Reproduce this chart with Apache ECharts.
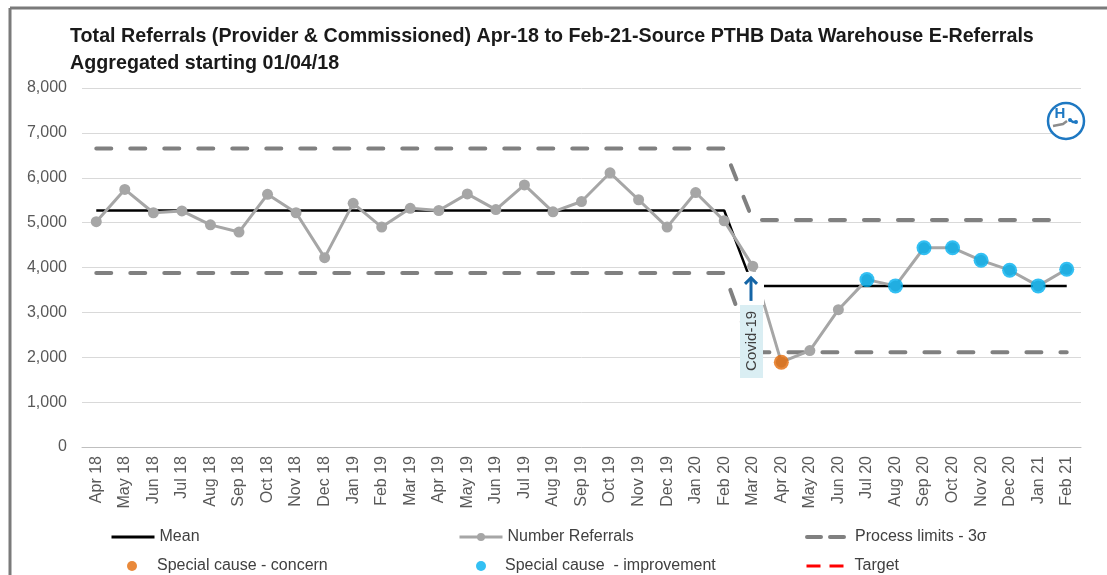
<!DOCTYPE html>
<html>
<head>
	<meta charset="utf-8" />
	<title>Total Referrals SPC</title>
	<script src="https://cdn.jsdelivr.net/npm/echarts@6/dist/echarts.min.js"></script>
	<style>
		html, body { margin: 0; padding: 0; background: #fff; }
		#chart { width: 1107px; height: 575px; }
	</style>
</head>
<body>
<div id="chart"></div>
<script type="text/javascript">
	// months Apr 18 .. Feb 21
	var months = ['Apr 18','May 18','Jun 18','Jul 18','Aug 18','Sep 18','Oct 18','Nov 18','Dec 18','Jan 19','Feb 19','Mar 19',
		'Apr 19','May 19','Jun 19','Jul 19','Aug 19','Sep 19','Oct 19','Nov 19','Dec 19','Jan 20','Feb 20','Mar 20',
		'Apr 20','May 20','Jun 20','Jul 20','Aug 20','Sep 20','Oct 20','Nov 20','Dec 20','Jan 21','Feb 21'];

	var referrals = [5020,5740,5220,5260,4950,4790,5630,5220,4220,5430,4900,5320,
		5270,5640,5290,5840,5240,5470,6110,5510,4900,5670,5040,4030,
		1890,2150,3060,3730,3590,4440,4440,4160,3940,3590,3960];

	var mean = [5270,5270,5270,5270,5270,5270,5270,5270,5270,5270,5270,5270,
		5270,5270,5270,5270,5270,5270,5270,5270,5270,5270,5270,3590,
		3590,3590,3590,3590,3590,3590,3590,3590,3590,3590,3590];

	var upperLimit = [6650,6650,6650,6650,6650,6650,6650,6650,6650,6650,6650,6650,
		6650,6650,6650,6650,6650,6650,6650,6650,6650,6650,6650,5060,
		5060,5060,5060,5060,5060,5060,5060,5060,5060,5060,5060];

	var lowerLimit = [3880,3880,3880,3880,3880,3880,3880,3880,3880,3880,3880,3880,
		3880,3880,3880,3880,3880,3880,3880,3880,3880,3880,3880,2110,
		2110,2110,2110,2110,2110,2110,2110,2110,2110,2110,2110];

	// special cause flags (null = no flag)
	var concern = [null,null,null,null,null,null,null,null,null,null,null,null,
		null,null,null,null,null,null,null,null,null,null,null,null,
		1890,null,null,null,null,null,null,null,null,null,null];

	var improvement = [null,null,null,null,null,null,null,null,null,null,null,null,
		null,null,null,null,null,null,null,null,null,null,null,null,
		null,null,null,3730,3590,4440,4440,4160,3940,3590,3960];

	var target = [];

	var yTicks = { min: 0, max: 8000, interval: 1000 };

	var covidMonth = 'Mar 20';

	var font = '"Liberation Sans", Arial, sans-serif';

	// line-type legend entry (no symbol unless keepDot)
	function lineLegend(name, left, top, lineStyle, keepDot) {
		var item = { name: name, lineStyle: lineStyle };
		if (!keepDot) item.itemStyle = { opacity: 0 };
		return {
			data: [item],
			left: left,
			top: top,
			padding: 0,
			itemWidth: 43,
			itemHeight: 10,
			selectedMode: false,
			textStyle: { fontSize: 16, color: '#404040', fontFamily: font }
		};
	}
	// dot-type legend entry
	function dotLegend(name, left, top, gap) {
		return {
			data: [{ name: name, icon: 'circle' }],
			left: left,
			top: top,
			padding: 0,
			itemWidth: 10,
			itemHeight: 10,
			selectedMode: false,
			textStyle: { fontSize: 16, color: '#404040', fontFamily: font, padding: [0, 0, 0, gap] }
		};
	}

	var myChart = echarts.init(document.getElementById('chart'));
	var option = {
		animation: false,
		backgroundColor: '#fff',
		title: {
			text: 'Total Referrals (Provider & Commissioned) Apr-18 to Feb-21-Source PTHB Data Warehouse E-Referrals\nAggregated starting 01/04/18',
			left: 65,
			top: 18,
			textStyle: {
				fontFamily: font,
				fontWeight: 'bold',
				fontSize: 19.7,
				lineHeight: 27,
				color: '#1a1a1a'
			}
		},
		legend: [
			lineLegend('Mean', 110, 529, { width: 3 }),
			lineLegend('Number Referrals', 458, 529, { width: 3 }, true),
			lineLegend('Process limits - 3σ', 805, 529, { width: 4, type: [14, 9] }),
			dotLegend('Special cause - concern', 127, 558, 15),
			dotLegend('Special cause  - improvement', 476, 558, 14),
			lineLegend('Target', 805, 558, { width: 3, type: [14, 9] })
		],
		grid: {
			left: 82,
			right: 26,
			top: 88,
			bottom: 128
		},
		xAxis: {
			type: 'category',
			data: months,
			boundaryGap: true,
			axisTick: { show: false },
			axisLine: { lineStyle: { color: '#BFBFBF', width: 1 } },
			axisLabel: {
				rotate: 90,
				interval: 0,
				margin: 9,
				fontSize: 16,
				color: '#595959',
				fontFamily: font
			}
		},
		yAxis: {
			type: 'value',
			min: yTicks.min,
			max: yTicks.max,
			interval: yTicks.interval,
			axisLine: { show: false },
			axisTick: { show: false },
			splitLine: { lineStyle: { color: '#D9D9D9', width: 1 } },
			axisLabel: {
				margin: 15,
				fontSize: 16,
				color: '#595959',
				fontFamily: font,
				formatter: function (v) { return v.toLocaleString('en-US'); }
			}
		},
		series: [
			{
				name: 'Process limits - 3σ',
				type: 'line',
				data: upperLimit,
				symbol: 'none',
				z: 2,
				color: '#808080',
				lineStyle: { color: '#808080', width: 4, type: [15, 19], cap: 'round' }
			},
			{
				name: 'Process limits - 3σ',
				type: 'line',
				data: lowerLimit,
				symbol: 'none',
				z: 2,
				color: '#808080',
				lineStyle: { color: '#808080', width: 4, type: [15, 19], cap: 'round' }
			},
			{
				name: 'Mean',
				type: 'line',
				data: mean,
				symbol: 'none',
				z: 3,
				color: '#000',
				lineStyle: { color: '#000', width: 2.5 }
			},
			{
				name: 'Number Referrals',
				type: 'line',
				data: referrals,
				symbol: 'circle',
				symbolSize: 11,
				z: 4,
				color: '#A6A6A6',
				itemStyle: { color: '#A6A6A6' },
				lineStyle: { color: '#A6A6A6', width: 3 }
			},
			{
				name: 'Special cause - concern',
				type: 'scatter',
				data: concern,
				symbol: 'circle',
				symbolSize: 15,
				z: 5,
				color: '#E36C0A',
				itemStyle: { color: '#E36C0A' }
			},
			{
				name: 'Special cause  - improvement',
				type: 'scatter',
				data: improvement,
				symbol: 'circle',
				symbolSize: 15,
				z: 5,
				color: '#00B0F0',
				itemStyle: { color: '#00B0F0' }
			},
			{
				name: 'Target',
				type: 'line',
				data: target,
				symbol: 'none',
				color: '#FF0000',
				lineStyle: { color: '#FF0000', width: 4, type: [12, 10] }
			}
		]
	};
	myChart.setOption(option);

	// Covid-19 annotation, placed from the Mar 20 mean point
	var ci = months.indexOf(covidMonth);
	var pt = myChart.convertToPixel({ xAxisIndex: 0, yAxisIndex: 0 }, [ci, mean[ci]]);
	var ax = Math.round(pt[0]) - 2, ay = pt[1];
	myChart.setOption({
		graphic: [
			// page frame (top and left edge)
			{ type: 'line', shape: { x1: 10, y1: 8, x2: 1107, y2: 8 }, style: { stroke: '#7A7A7A', lineWidth: 3 }, z: 100 },
			{ type: 'line', shape: { x1: 10, y1: 8, x2: 10, y2: 575 }, style: { stroke: '#7A7A7A', lineWidth: 3 }, z: 100 },
			// annotation
			{ type: 'rect', shape: { x: ax - 13, y: ay - 14, width: 26, height: 33 }, style: { fill: '#fff' }, z: 50 },
			{ type: 'rect', shape: { x: ax - 11, y: ay + 19, width: 23, height: 73 }, style: { fill: '#DAEEF3' }, z: 51 },
			{ type: 'line', shape: { x1: ax, y1: ay + 15, x2: ax, y2: ay - 8 }, style: { stroke: '#1565A6', lineWidth: 3 }, z: 52 },
			{ type: 'polyline', shape: { points: [[ax - 6, ay - 2], [ax, ay - 8], [ax + 6, ay - 2]] }, style: { stroke: '#1565A6', lineWidth: 3, fill: null }, z: 52 },
			{
				type: 'text', x: ax + 1, y: ay + 55, rotation: Math.PI / 2, z: 53,
				style: { text: 'Covid-19', fontSize: 15, fontFamily: font, fill: '#404040', align: 'center', verticalAlign: 'middle' }
			},
			// logo badge
			{
				type: 'group', x: 1066, y: 121, z: 60,
				children: [
					{ type: 'circle', shape: { cx: 0, cy: 0, r: 18 }, style: { fill: '#fff', stroke: '#1E78C2', lineWidth: 2.5 } },
					{ type: 'text', x: -6, y: -7, style: { text: 'H', fontSize: 15, fontWeight: 'bold', fontFamily: font, fill: '#1E78C2', align: 'center', verticalAlign: 'middle' } },
					{ type: 'polyline', shape: { points: [[-13, 5], [-8, 4], [-3, 3], [1, 0]] }, style: { stroke: '#8C8C8C', lineWidth: 2.5, fill: null } },
					{ type: 'polyline', shape: { points: [[4, -1], [7, 1], [11, 1]] }, style: { stroke: '#1E78C2', lineWidth: 2.5, fill: null } },
					{ type: 'circle', shape: { cx: 4, cy: -1, r: 2 }, style: { fill: '#1E78C2' } },
					{ type: 'circle', shape: { cx: 10, cy: 1, r: 2 }, style: { fill: '#1E78C2' } }
				]
			}
		]
	});
</script>
</body>
</html>
